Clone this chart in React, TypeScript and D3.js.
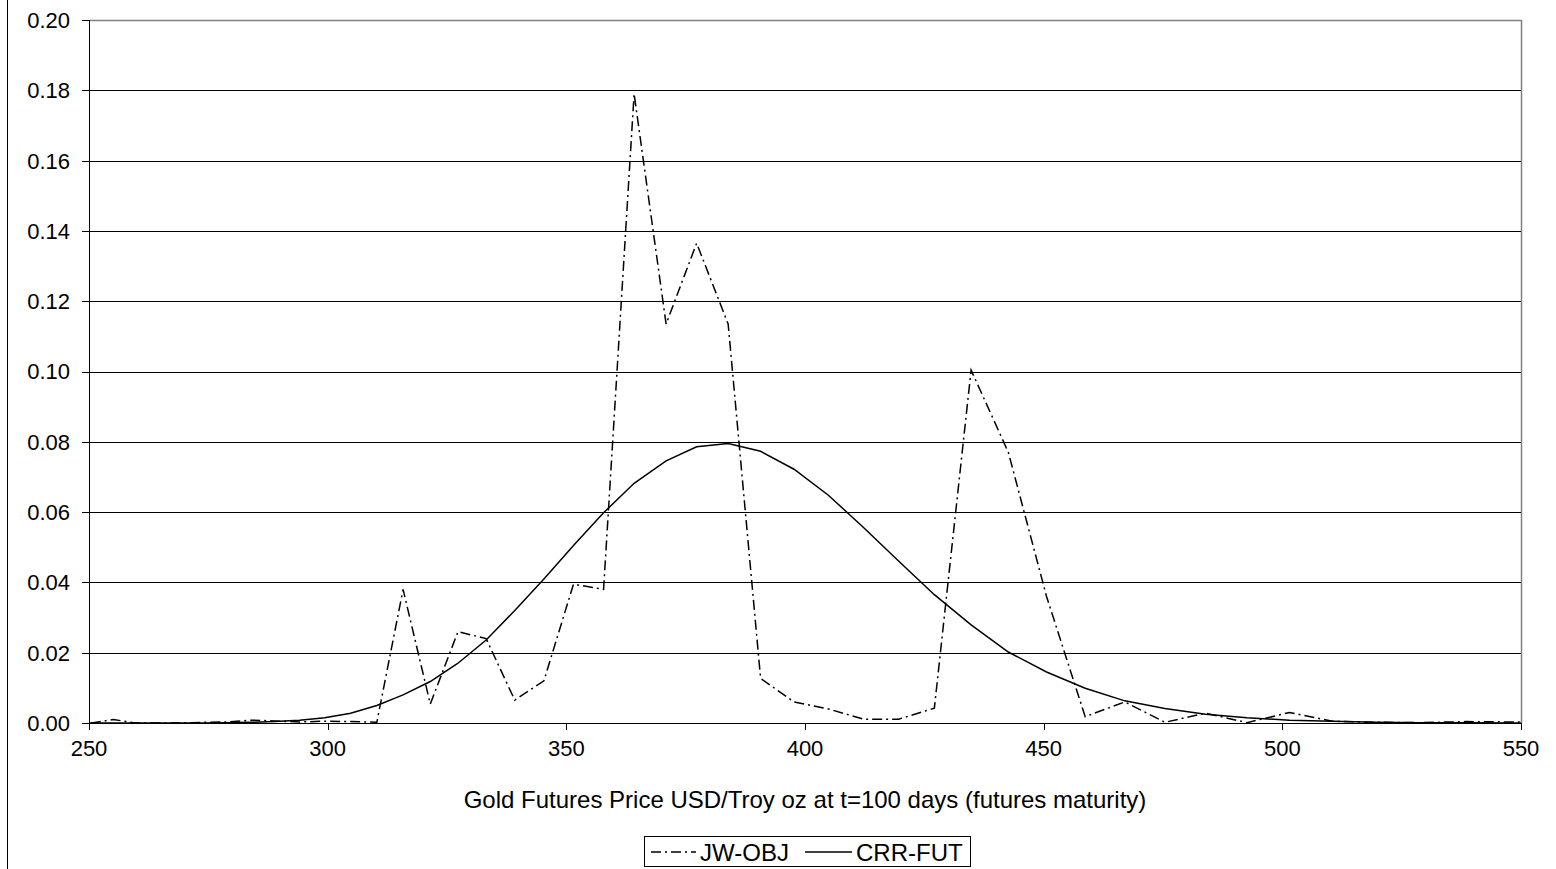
import React from "react";
import * as d3 from "d3";

// terminal node prices of the tree (USD/Troy oz)
const prices = [
  246.2, 250.6, 255.1, 259.7, 264.3, 269.1, 273.9, 278.8, 283.8, 288.9, 294.1,
  299.4, 304.8, 310.3, 315.8, 321.5, 327.3, 333.2, 339.2, 345.3, 351.5, 357.8,
  364.2, 370.9, 377.3, 383.9, 390.7, 397.7, 404.9, 412.2, 419.6, 427.1, 434.8,
  442.6, 450.6, 458.7, 467.0, 475.4, 483.9, 492.6, 501.5, 510.5, 519.7, 529.0,
  538.5, 548.2, 558.1,
];

const jwObj = [
  0, 0, 0.001, 0, 0, 0, 0.0002, 0.0003, 0.0008, 0.0006, 0.0003,
  0.0005, 0.0004, 0.0002, 0.038, 0.0054, 0.026, 0.024, 0.0065, 0.012, 0.0395, 0.038,
  0.179, 0.1135, 0.1365, 0.1135, 0.0127, 0.006, 0.004, 0.0011, 0.0011, 0.0042, 0.1004,
  0.077, 0.036, 0.0018, 0.006, 0.0002, 0.0028, 0.0001, 0.003, 0.0005, 0.0002, 0.0001,
  0.0004, 0.0003, 0.0004,
];

const crrFut = [
  0, 0, 0, 0, 0, 0, 0, 0.0001, 0.0002, 0.0004, 0.0008,
  0.0015, 0.0028, 0.005, 0.008, 0.0118, 0.017, 0.0236, 0.032, 0.041, 0.0505, 0.0598,
  0.0682, 0.0746, 0.0786, 0.0795, 0.0773, 0.0722, 0.0648, 0.0557, 0.0461, 0.0365, 0.0279,
  0.0202, 0.0145, 0.0099, 0.0063, 0.0041, 0.0025, 0.0015, 0.0008, 0.0005, 0.0002, 0.0001,
  0.00005, 0, 0,
];

const xTicks = [250, 300, 350, 400, 450, 500, 550];
const yTicks = [0, 0.02, 0.04, 0.06, 0.08, 0.1, 0.12, 0.14, 0.16, 0.18, 0.2];

const W = 1556;
const H = 869;
const left = 89;
const right = 1521;
const top = 20;
const bottom = 723;
const font = "'Liberation Sans', Arial, sans-serif";
const dash = "10,4,2,4";

export default function App() {
  const x = d3.scaleLinear().domain([250, 550]).range([left, right]);
  const y = d3.scaleLinear().domain([0, 0.2]).range([bottom, top]);

  const line = d3
    .line<number>()
    .x((_, i) => x(prices[i]))
    .y((d) => y(d));

  return (
    <svg
      width={W}
      height={H}
      style={{ position: "absolute", left: 0, top: 0, background: "#fff" }}
      fontFamily={font}
    >
      <defs>
        <clipPath id="plot">
          <rect x={left} y={top - 2} width={right - left} height={bottom - top + 4} />
        </clipPath>
      </defs>
      {/* outer chart border, only the left edge is in frame */}
      <line x1={7.5} x2={7.5} y1={0} y2={H} stroke="#000" />

      {/* plot frame */}
      <line x1={left} x2={right} y1={top + 0.5} y2={top + 0.5} stroke="#808080" strokeWidth={1.5} />
      <line x1={right + 0.5} x2={right + 0.5} y1={top} y2={bottom} stroke="#808080" strokeWidth={1.5} />

      {/* gridlines + y ticks */}
      {yTicks.map((t) => (
        <g key={t}>
          {t > 0 && t < 0.2 && (
            <line x1={left} x2={right} y1={Math.round(y(t)) + 0.5} y2={Math.round(y(t)) + 0.5} stroke="#000" />
          )}
          <line x1={left - 7} x2={left} y1={Math.round(y(t)) + 0.5} y2={Math.round(y(t)) + 0.5} stroke="#000" />
          <text x={70} y={y(t)} dy="0.36em" textAnchor="end" fontSize={22} fill="#000">
            {d3.format(".2f")(t)}
          </text>
        </g>
      ))}

      {/* axes */}
      <line x1={left + 0.5} x2={left + 0.5} y1={top} y2={bottom} stroke="#000" />
      <line x1={left} x2={right} y1={bottom + 0.5} y2={bottom + 0.5} stroke="#000" />
      {xTicks.map((t) => (
        <g key={t}>
          <line x1={Math.round(x(t)) + 0.5} x2={Math.round(x(t)) + 0.5} y1={bottom} y2={bottom + 7} stroke="#000" />
          <text x={x(t)} y={756} textAnchor="middle" fontSize={22} fill="#000">
            {t}
          </text>
        </g>
      ))}

      <text x={805} y={808} textAnchor="middle" fontSize={24} fill="#000">
        Gold Futures Price USD/Troy oz at t=100 days (futures maturity)
      </text>

      {/* series */}
      <g clipPath="url(#plot)" fill="none" stroke="#000">
        <path d={line(jwObj) ?? ""} strokeWidth={1.5} strokeDasharray={dash} />
        <path d={line(crrFut) ?? ""} strokeWidth={1.5} />
      </g>

      {/* legend */}
      <g>
        <rect x={644.5} y={836.5} width={326} height={30} fill="#fff" stroke="#000" />
        <line x1={651} x2={696} y1={852} y2={852} stroke="#000" strokeWidth={1.5} strokeDasharray={dash} />
        <text x={700} y={852} dy="0.36em" fontSize={24} fill="#000">JW-OBJ</text>
        <line x1={805} x2={852} y1={852} y2={852} stroke="#000" strokeWidth={1.5} />
        <text x={856} y={852} dy="0.36em" fontSize={24} fill="#000">CRR-FUT</text>
      </g>
    </svg>
  );
}
